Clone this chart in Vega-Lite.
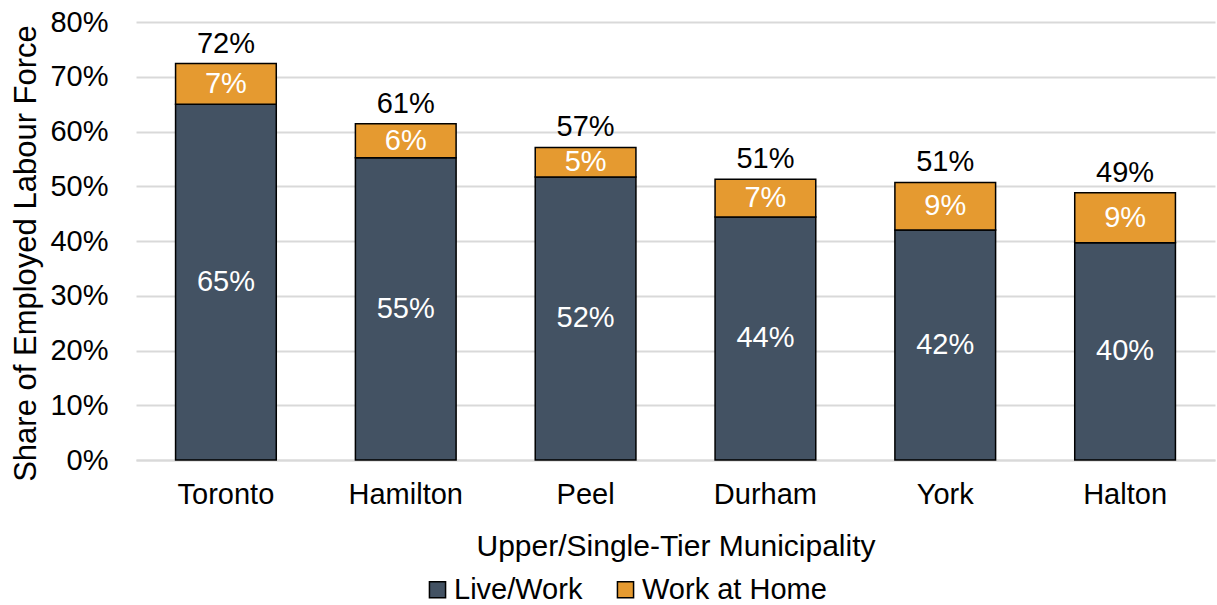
{
  "$schema": "https://vega.github.io/schema/vega-lite/v6.json",
  "autosize": {"type": "none"},
  "width": 1079,
  "height": 438,
  "padding": {"left": 136, "top": 22, "right": 2, "bottom": 145},
  "background": "white",
  "config": {
    "view": {"stroke": null},
    "font": "Liberation Sans",
    "text": {"font": "Liberation Sans"}
  },
  "data": {
    "values": [
      {"municipality": "Toronto", "series": "Live/Work", "share": 0.650},
      {"municipality": "Toronto", "series": "Work at Home", "share": 0.074},
      {"municipality": "Hamilton", "series": "Live/Work", "share": 0.552},
      {"municipality": "Hamilton", "series": "Work at Home", "share": 0.062},
      {"municipality": "Peel", "series": "Live/Work", "share": 0.517},
      {"municipality": "Peel", "series": "Work at Home", "share": 0.054},
      {"municipality": "Durham", "series": "Live/Work", "share": 0.444},
      {"municipality": "Durham", "series": "Work at Home", "share": 0.069},
      {"municipality": "York", "series": "Live/Work", "share": 0.420},
      {"municipality": "York", "series": "Work at Home", "share": 0.087},
      {"municipality": "Halton", "series": "Live/Work", "share": 0.397},
      {"municipality": "Halton", "series": "Work at Home", "share": 0.091}
    ]
  },
  "encoding": {
    "x": {
      "field": "municipality",
      "type": "nominal",
      "sort": ["Toronto", "Hamilton", "Peel", "Durham", "York", "Halton"],
      "scale": {"paddingInner": 0.44, "paddingOuter": 0.22},
      "axis": {
        "title": "Upper/Single-Tier Municipality",
        "labelAngle": 0,
        "labelFontSize": 29,
        "labelColor": "black",
        "labelPadding": 20,
        "ticks": false,
        "domain": true,
        "domainColor": "#d9d9d9",
        "domainWidth": 2,
        "titleFontSize": 30,
        "titleFontWeight": "normal",
        "titleColor": "black",
        "titlePadding": 22
      }
    }
  },
  "layer": [
    {
      "mark": {"type": "bar", "stroke": "black", "strokeWidth": 1.5},
      "encoding": {
        "y": {
          "field": "share",
          "type": "quantitative",
          "stack": "zero",
          "scale": {"domain": [0, 0.8], "nice": false},
          "axis": {
            "values": [0, 0.1, 0.2, 0.3, 0.4, 0.5, 0.6, 0.7, 0.8],
            "format": ".0%",
            "title": "Share of Employed Labour Force",
            "labelFontSize": 29,
            "labelColor": "black",
            "labelPadding": 28,
            "ticks": false,
            "domain": false,
            "grid": true,
            "gridColor": "#d9d9d9",
            "gridWidth": 2,
            "titleFontSize": 31,
            "titleFontWeight": "normal",
            "titleColor": "black",
            "titlePadding": 7,
            "titleY": 231
          }
        },
        "color": {
          "field": "series",
          "type": "nominal",
          "scale": {"domain": ["Live/Work", "Work at Home"], "range": ["#435263", "#E59A30"]},
          "legend": {
            "title": null,
            "orient": "none",
            "direction": "horizontal",
            "legendX": 287,
            "legendY": 553,
            "symbolType": "square",
            "symbolSize": 260,
            "symbolStrokeColor": "black",
            "symbolStrokeWidth": 1.5,
            "symbolOpacity": 1,
            "labelFontSize": 29,
            "labelColor": "black",
            "labelOffset": 2,
            "labelLimit": 0,
            "columnPadding": 28
          }
        },
        "order": {"field": "series", "sort": "ascending"}
      }
    },
    {
      "transform": [
        {"stack": "share", "groupby": ["municipality"], "sort": [{"field": "series", "order": "ascending"}], "as": ["s0", "s1"]},
        {"calculate": "(datum.s0 + datum.s1) / 2", "as": "mid"}
      ],
      "mark": {"type": "text", "color": "white", "fontSize": 29, "baseline": "middle"},
      "encoding": {
        "y": {"field": "mid", "type": "quantitative"},
        "text": {"field": "share", "type": "quantitative", "format": ".0%"}
      }
    },
    {
      "transform": [
        {"aggregate": [{"op": "sum", "field": "share", "as": "total"}], "groupby": ["municipality"]}
      ],
      "mark": {"type": "text", "color": "black", "fontSize": 29, "baseline": "bottom", "dy": -5},
      "encoding": {
        "y": {"field": "total", "type": "quantitative"},
        "text": {"field": "total", "type": "quantitative", "format": ".0%"}
      }
    }
  ]
}
